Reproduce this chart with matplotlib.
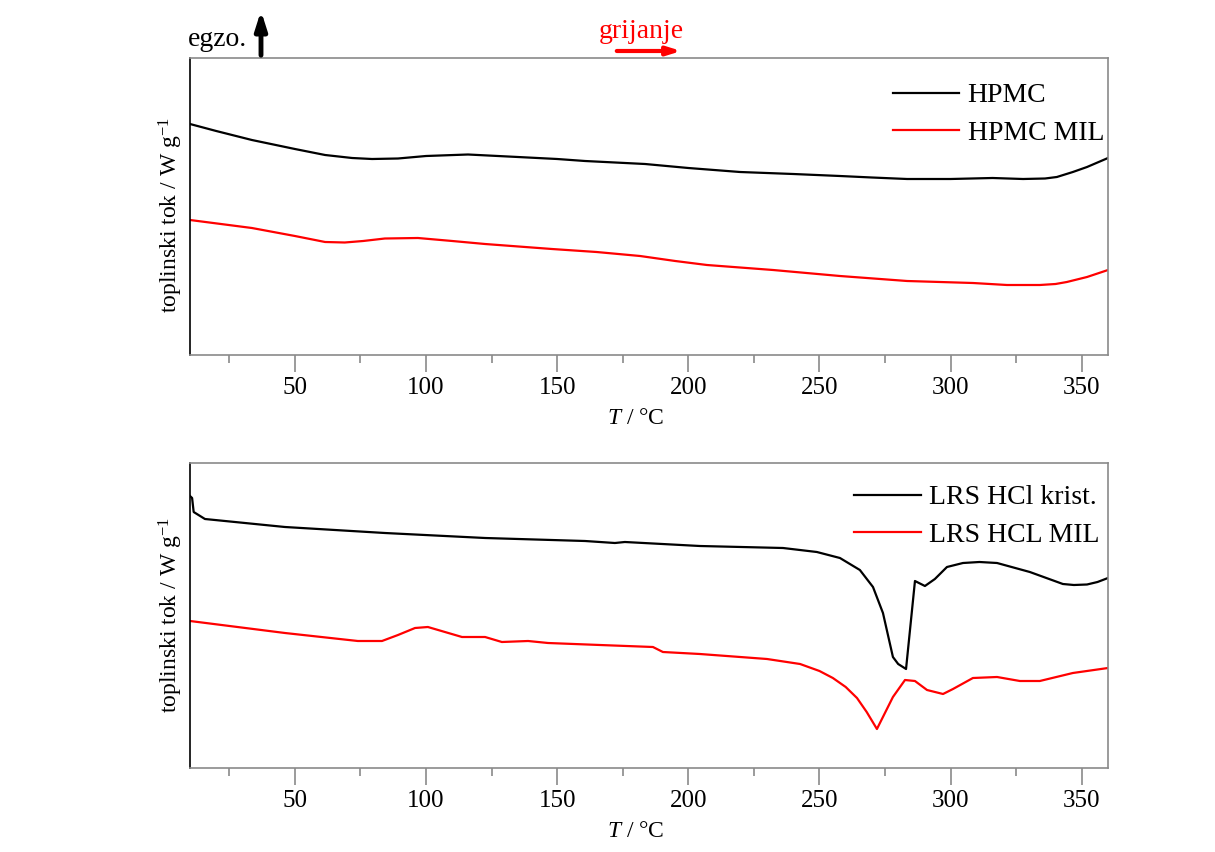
import matplotlib
matplotlib.use("Agg")
import matplotlib.pyplot as plt

plt.rcParams['font.family'] = ['Liberation Serif', 'DejaVu Serif']
plt.rcParams['mathtext.fontset'] = 'custom'
plt.rcParams['mathtext.rm'] = 'Liberation Serif'
plt.rcParams['mathtext.it'] = 'Liberation Serif:italic'

# ---- data (temperature in °C, heat flow in arbitrary units) ----
hpmc_T = [10, 20, 33.6, 50, 61.5, 71.8, 79.4, 89.3, 100, 116, 135, 150, 160.6, 183.5,
          200, 219.7, 240, 257.8, 270, 283.4, 300, 316, 327.6, 336, 340.5, 346.6,
          352, 360]
hpmc_q = [231, 224, 215, 206, 200, 197, 196, 196.5, 199, 200.5, 198, 196, 194, 191,
          187, 183, 181, 179, 177.5, 176, 176, 177, 176, 176.5, 178, 183,
          188, 197]

hpmc_mil_T = [10, 33.6, 50, 61.5, 69, 76, 84.3, 96.9, 110, 122.5, 148, 165, 181.6,
              195, 207.1, 232.3, 257.8, 283.4, 308.5, 321.5, 334, 340, 344.3,
              352, 360]
hpmc_mil_q = [135, 127, 119, 113, 112.5, 114, 116.5, 117, 114, 111, 106, 103, 99,
              94, 90, 85, 79, 74, 72, 70, 70, 71, 73,
              78, 85]

lrs_T = [10, 10.8, 11.4, 15.7, 46.2, 84.3, 122.5, 160.6, 172, 175.8, 204.4, 236.1,
         249, 257.8, 265.4, 270.4, 274.2, 278, 280, 283, 286.4, 290.2, 294, 298.6,
         304.7, 311, 317.7, 330.2, 342.8, 347, 352, 356, 360]
lrs_q = [272, 270, 256, 249, 241, 235, 230, 227, 225, 226, 222, 220,
         216, 210, 198, 181, 155, 111, 104, 99, 187, 182, 189, 201,
         205, 206, 205, 196, 184, 183, 183.5, 186, 190]

lrs_mil_T = [10, 46.2, 74, 83.2, 89.3, 95.8, 100.7, 107.2, 113.7, 122.5, 128.9,
             138.9, 146.5, 166.3, 186.5, 190.3, 204.4, 230, 242.6, 250, 255.1,
             260, 264.3, 268, 271.9, 278, 282.6, 286.4, 291, 297.1, 300.9, 308.5,
             317.7, 326.4, 334, 346.6, 360]
lrs_mil_q = [147, 135, 127, 127, 133, 140, 141, 136, 131, 131, 126,
             127, 125, 123, 121, 116, 114, 109, 104, 97, 90,
             81, 70, 56, 39, 71, 88, 87, 78, 74, 79, 90,
             91, 87, 87, 95, 100]

x_major = [50, 100, 150, 200, 250, 300, 350]
x_minor = [25, 75, 125, 175, 225, 275, 325]

fig = plt.figure(figsize=(12.15, 8.52), dpi=100)
W, H = 1215, 852

def make_ax(top_px, bot_px):
    l, r = 190, 1108
    return fig.add_axes([l / W, 1 - bot_px / H, (r - l) / W, (bot_px - top_px) / H])

ax1 = make_ax(58, 355)
ax2 = make_ax(463, 768)

grey = '#8a8a8a'
for ax, xl_y, yl_y in ((ax1, -0.178, 0.47), (ax2, -0.174, 0.5)):
    ax.set_xlim(10, 360)
    ax.set_xticks(x_major)
    ax.set_xticks(x_minor, minor=True)
    ax.set_yticks([])
    for s in ('top', 'right', 'bottom'):
        ax.spines[s].set_color(grey)
        ax.spines[s].set_linewidth(1.2)
    ax.spines['left'].set_color('black')
    ax.spines['left'].set_linewidth(1.2)
    ax.tick_params(axis='x', which='major', direction='out', length=12, width=1.2,
                   color=grey, labelsize=18, pad=4)
    ax.tick_params(axis='x', which='minor', direction='out', length=6, width=1.2,
                   color=grey)
    ax.set_xlabel('$T$ / °C', fontsize=17)
    ax.xaxis.set_label_coords((636 - 190) / 918, xl_y)
    ax.set_ylabel('toplinski tok / W g$^{-1}$', fontsize=17)
    ax.yaxis.set_label_coords(-5 / 918, yl_y)

ax1.plot(hpmc_T, hpmc_q, color='black', lw=1.6, label='HPMC')
ax1.plot(hpmc_mil_T, hpmc_mil_q, color='red', lw=1.6, label='HPMC MIL')
ax1.set_ylim(0, 297)
ax1.legend(loc='upper right', frameon=False, fontsize=20, handlelength=2.4,
           handletextpad=0.3, labelspacing=0.43, bbox_to_anchor=(1.023, 1.0))

ax2.plot(lrs_T, lrs_q, color='black', lw=1.6, label='LRS HCl krist.')
ax2.plot(lrs_mil_T, lrs_mil_q, color='red', lw=1.6, label='LRS HCL MIL')
ax2.set_ylim(0, 305)
ax2.legend(loc='upper right', frameon=False, fontsize=20, handlelength=2.4,
           handletextpad=0.3, labelspacing=0.43, bbox_to_anchor=(1.018, 1.01))

# annotations: exo arrow and heating arrow
ax1.annotate('', xy=(261 / W, 1 - 8 / H), xytext=(261 / W, 1 - 58 / H),
             xycoords='figure fraction', textcoords='figure fraction',
             arrowprops=dict(arrowstyle='-|>,head_length=1.1,head_width=0.35',
                             color='black', lw=3.5))
fig.text(188 / W, 1 - 46 / H, 'egzo.', fontsize=20, ha='left', va='baseline')
ax1.annotate('', xy=(684 / W, 1 - 51 / H), xytext=(614 / W, 1 - 51 / H),
             xycoords='figure fraction', textcoords='figure fraction',
             arrowprops=dict(arrowstyle='-|>,head_length=0.8,head_width=0.25',
                             color='red', lw=3))
fig.text(641 / W, 1 - 38 / H, 'grijanje', fontsize=20, color='red',
         ha='center', va='baseline')

fig.savefig('out.png', dpi=100)
